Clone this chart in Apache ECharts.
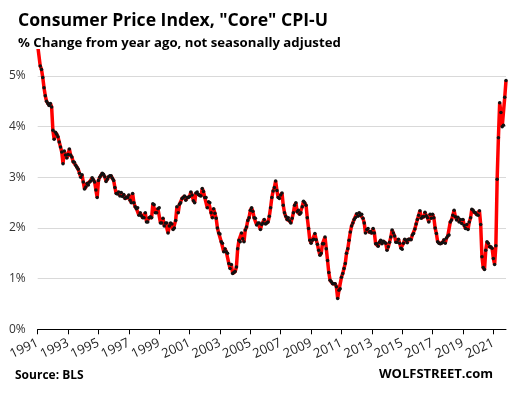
<!DOCTYPE html>
<html><head><meta charset="utf-8">
<script src="https://cdn.jsdelivr.net/npm/echarts@6/dist/echarts.min.js"></script>
<style>html,body{margin:0;padding:0;background:#fff}#c{width:514px;height:394px}</style>
</head><body><div id="c"></div>
<script>
// Core CPI-U, % change from year ago, monthly Jan 1991 - Nov 2021
const startYear = 1991;
const v1991 = [5.6,5.6,5.2,5.13,4.97,4.77,4.61,4.5,4.46,4.42,4.46,4.39];
const v1992 = [3.93,3.75,3.89,3.85,3.8,3.7,3.6,3.5,3.27,3.52,3.44,3.38];
const v1993 = [3.45,3.56,3.44,3.4,3.31,3.3,3.24,3.2,3.16,3.08,3.0,3.05];
const v1994 = [2.91,2.77,2.81,2.88,2.85,2.91,2.93,2.99,2.95,2.91,2.75,2.6];
const v1995 = [2.94,3.0,3.04,3.08,3.06,3.01,2.92,2.96,3.01,3.03,3.03,2.98];
const v1996 = [2.94,2.8,2.68,2.67,2.71,2.63,2.7,2.62,2.66,2.58,2.61,2.6];
const v1997 = [2.65,2.55,2.5,2.68,2.5,2.42,2.38,2.4,2.25,2.3,2.24,2.2];
const v1998 = [2.2,2.3,2.12,2.12,2.2,2.22,2.2,2.48,2.46,2.3,2.3,2.38];
const v1999 = [2.4,2.1,2.1,2.19,2.04,2.1,2.1,1.9,2.04,2.1,2.08,1.97];
const v2000 = [2.0,2.15,2.42,2.3,2.47,2.5,2.58,2.6,2.63,2.55,2.6,2.6];
const v2001 = [2.62,2.71,2.65,2.54,2.5,2.69,2.71,2.66,2.64,2.63,2.78,2.72];
const v2002 = [2.6,2.6,2.4,2.52,2.5,2.3,2.2,2.38,2.29,2.19,2.0,1.9];
const v2003 = [1.88,1.73,1.7,1.53,1.59,1.53,1.5,1.3,1.2,1.28,1.1,1.12];
const v2004 = [1.14,1.23,1.59,1.76,1.73,1.9,1.79,1.73,1.96,2.02,2.15,2.2];
const v2005 = [2.35,2.4,2.33,2.2,2.19,2.06,2.1,2.1,1.97,2.07,2.1,2.17];
const v2006 = [2.08,2.1,2.12,2.23,2.4,2.6,2.73,2.8,2.93,2.74,2.6,2.58];
const v2007 = [2.65,2.69,2.45,2.3,2.23,2.17,2.2,2.14,2.1,2.19,2.3,2.45];
const v2008 = [2.5,2.32,2.35,2.27,2.3,2.42,2.53,2.5,2.45,2.2,1.99,1.76];
const v2009 = [1.7,1.76,1.78,1.89,1.77,1.68,1.56,1.46,1.5,1.69,1.69,1.82];
const v2010 = [1.59,1.36,1.12,0.97,0.94,0.9,0.9,0.9,0.84,0.61,0.77,0.8];
const v2011 = [1.03,1.1,1.2,1.3,1.5,1.59,1.76,1.92,2.04,2.1,2.17,2.2];
const v2012 = [2.28,2.23,2.3,2.25,2.27,2.19,2.1,1.9,1.97,1.99,1.92,1.93];
const v2013 = [1.9,1.99,1.9,1.69,1.69,1.64,1.72,1.76,1.69,1.74,1.72,1.7];
const v2014 = [1.56,1.63,1.72,1.82,1.96,1.9,1.84,1.72,1.72,1.78,1.7,1.6];
const v2015 = [1.58,1.7,1.78,1.76,1.71,1.78,1.78,1.77,1.86,1.89,1.98,2.08];
const v2016 = [2.17,2.25,2.34,2.19,2.22,2.22,2.31,2.24,2.2,2.12,2.27,2.19];
const v2017 = [2.27,2.2,2.0,1.89,1.73,1.7,1.69,1.7,1.72,1.77,1.7,1.8];
const v2018 = [1.84,1.86,2.12,2.16,2.25,2.35,2.22,2.16,2.21,2.12,2.17,2.09];
const v2019 = [2.17,2.05,1.99,2.07,1.97,2.12,2.2,2.37,2.35,2.31,2.3,2.26];
const v2020 = [2.25,2.34,2.07,1.43,1.22,1.18,1.56,1.73,1.7,1.63,1.63,1.6];
const v2021 = [1.4,1.28,1.65,2.96,3.78,4.47,4.28,4.0,4.03,4.58,4.91];

const yearly = [v1991,v1992,v1993,v1994,v1995,v1996,v1997,v1998,v1999,v2000,v2001,v2002,v2003,v2004,v2005,v2006,v2007,v2008,v2009,v2010,v2011,v2012,v2013,v2014,v2015,v2016,v2017,v2018,v2019,v2020,v2021];
const values = [];
const months = [];
yearly.forEach((arr, yi) => arr.forEach((v, mi) => {
  values.push(v);
  months.push((startYear + yi) + '-' + String(mi + 1).padStart(2, '0'));
}));
const isTick = (idx, val) => val.endsWith('-01') && (parseInt(val) - startYear) % 2 === 0;

const chart = echarts.init(document.getElementById('c'), null, {renderer: 'canvas'});
const gridColors = ['#d9d9d9','#d9d9d9','#d9d9d9','#d9d9d9','#d9d9d9','#d9d9d9','rgba(0,0,0,0)'];
chart.setOption({
  animation: false,
  backgroundColor: '#fff',
  title: [
    {text: 'Consumer Price Index, "Core" CPI-U', left: 13, top: 7,
     textStyle: {fontFamily: 'Open Sans', fontWeight: 'bold', fontSize: 17.6, color: '#000'}},
    {text: '% Change from year ago, not seasonally adjusted', left: 13, top: 32,
     textStyle: {fontFamily: 'Open Sans', fontWeight: 'bold', fontSize: 13.2, color: '#000'}}
  ],
  graphic: [
    {type: 'text', left: 15, top: 370, style: {text: 'Source: BLS', font: 'bold 12px "Open Sans"', fill: '#000'}},
    {type: 'text', right: 21, top: 368, style: {text: 'WOLFSTREET.com', font: 'bold 13px "Open Sans"', fill: '#000'}}
  ],
  grid: {left: 37.7, right: 8, top: 50.7, bottom: 64.7, containLabel: false},
  xAxis: {
    type: 'category', data: months, boundaryGap: false,
    axisLine: {lineStyle: {color: '#000', width: 1}},
    axisTick: {interval: isTick, length: 5, lineStyle: {color: '#000'}},
    axisLabel: {interval: isTick, rotate: 25, margin: 13, fontFamily: 'Open Sans', fontSize: 13, color: '#222',
                formatter: v => v.slice(0, 4)},
    splitLine: {show: false}
  },
  yAxis: {
    type: 'value', min: 0, max: 5.5, interval: 1,
    axisLine: {show: false}, axisTick: {show: false},
    axisLabel: {formatter: '{value}%', showMaxLabel: false, margin: 12, fontFamily: 'Open Sans', fontSize: 12, color: '#333'},
    splitLine: {lineStyle: {color: gridColors, width: 1}}
  },
  series: [{
    type: 'line', data: values, clip: true,
    showAllSymbol: true, symbol: 'circle', symbolSize: 3.5,
    itemStyle: {color: '#111'},
    lineStyle: {color: '#ff0000', width: 3.5}
  }]
});
</script></body></html>
